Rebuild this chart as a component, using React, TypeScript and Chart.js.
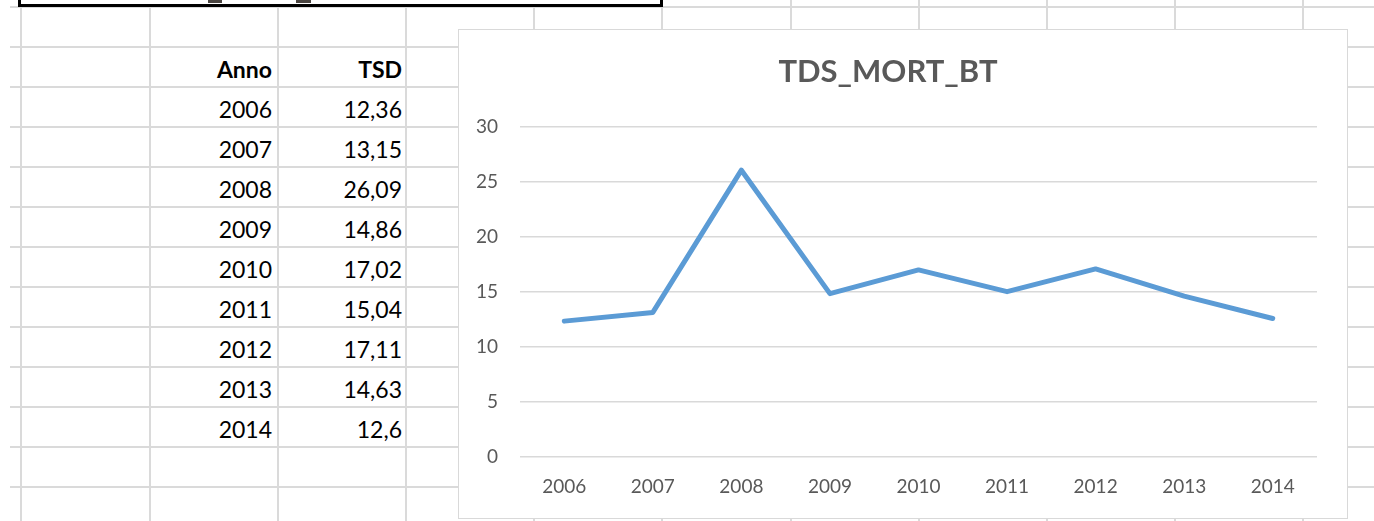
import React, { useEffect, useRef } from 'react';
import { Chart, registerables } from 'chart.js';

Chart.register(...registerables);

// ---- data ----
const TITLE = 'TDS_MORT_BT';
const HEADER_ANNO = 'Anno';
const HEADER_TSD = 'TSD';
const ANNI = ['2006', '2007', '2008', '2009', '2010', '2011', '2012', '2013', '2014'];
const TSD = [12.36, 13.15, 26.09, 14.86, 17.02, 15.04, 17.11, 14.63, 12.6];
const Y_MIN = 0;
const Y_MAX = 30;
const Y_STEP = 5;

// ---- layout (sheet decoration) ----
const COL_LINES = [20, 149, 277, 405, 533, 661, 790, 918, 1046, 1174, 1302];
const ROW_LINES = [6, 46, 86, 126, 166, 206, 246, 286, 326, 366, 406, 446, 486];
const GRID_COLOR = '#dadada';
const FONT = 'Lato, "Open Sans", "Noto Sans", sans-serif';
const TEXT_GRAY = '#595959';

function ChartBox() {
  const ref = useRef<HTMLCanvasElement | null>(null);
  useEffect(() => {
    if (!ref.current) return;
    const chart = new Chart(ref.current, {
      type: 'line',
      data: {
        labels: ANNI,
        datasets: [
          {
            label: 'TSD',
            data: TSD,
            borderColor: '#5b9bd5',
            backgroundColor: '#5b9bd5',
            borderWidth: 5,
            tension: 0,
            pointRadius: 0,
            pointHoverRadius: 0,
            borderCapStyle: 'round',
            borderJoinStyle: 'round',
            fill: false,
          },
        ],
      },
      options: {
        responsive: false,
        animation: false,
        devicePixelRatio: 1,
        layout: { padding: { left: 0, right: 30, top: 0, bottom: 0 } },
        plugins: {
          legend: { display: false },
          tooltip: { enabled: false },
          title: {
            display: true,
            text: TITLE,
            color: TEXT_GRAY,
            font: { family: FONT, size: 31, weight: 'bold', lineHeight: 1.2 },
            padding: { top: 23, bottom: 37 },
          },
        },
        scales: {
          x: {
            offset: true,
            grid: { display: false, drawTicks: false },
            border: { display: false },
            ticks: {
              color: TEXT_GRAY,
              font: { family: FONT, size: 19 },
              padding: 18,
              maxRotation: 0,
              autoSkip: false,
            },
            afterFit: (s: any) => {
              s.height = 61;
            },
          },
          y: {
            min: Y_MIN,
            max: Y_MAX,
            grid: { color: '#d9d9d9', lineWidth: 1.5, drawTicks: false },
            border: { display: false },
            ticks: {
              stepSize: Y_STEP,
              color: TEXT_GRAY,
              font: { family: FONT, size: 19 },
              padding: 22,
            },
            afterFit: (s: any) => {
              s.width = 61;
            },
          },
        },
      },
    });
    return () => chart.destroy();
  }, []);
  return (
    <canvas ref={ref} width={888} height={488} style={{ display: 'block', width: 888, height: 488 }} />
  );
}

const fmt = (v: number) => String(v).replace('.', ',');

export default function App() {
  const cellText = (text: string, right: number, top: number, bold: boolean, key: string) => (
    <div
      key={key}
      style={{
        position: 'absolute',
        right: 1374 - right,
        top: top + 2,
        height: 40,
        lineHeight: '40px',
        fontFamily: FONT,
        fontSize: 23,
        fontWeight: bold ? 700 : 400,
        color: '#000',
        whiteSpace: 'nowrap',
        textAlign: 'right',
      }}
    >
      {text}
    </div>
  );

  return (
    <div
      style={{
        position: 'absolute',
        left: 0,
        top: 0,
        width: 1374,
        height: 521,
        overflow: 'hidden',
        background: '#fff',
      }}
    >
      {ROW_LINES.map((y, i) => (
        <div
          key={'r' + i}
          style={{ position: 'absolute', left: 10, top: y, width: 1364, height: 2, background: GRID_COLOR }}
        />
      ))}
      {COL_LINES.map((x, i) => (
        <div
          key={'c' + i}
          style={{ position: 'absolute', left: x, top: 0, width: 2, height: 521, background: GRID_COLOR }}
        />
      ))}

      {cellText(HEADER_ANNO, 272, 47, true, 'ha')}
      {cellText(HEADER_TSD, 402, 47, true, 'ht')}
      {ANNI.map((a, i) => cellText(a, 272, 87 + 40 * i, false, 'a' + i))}
      {TSD.map((v, i) => cellText(fmt(v), 402, 87 + 40 * i, false, 't' + i))}

      <div
        style={{
          position: 'absolute',
          left: 18,
          top: -12,
          width: 645,
          height: 19,
          boxSizing: 'border-box',
          border: '3px solid #000',
          background: '#fff',
        }}
      />
      <div style={{ position: 'absolute', left: 208, top: 0, width: 14, height: 3, background: '#4a4440' }} />
      <div style={{ position: 'absolute', left: 296, top: 0, width: 15, height: 3, background: '#4a4440' }} />

      <div
        style={{
          position: 'absolute',
          left: 458,
          top: 29,
          width: 890,
          height: 490,
          boxSizing: 'border-box',
          border: '1px solid #d9d9d9',
          background: '#fff',
        }}
      >
        <ChartBox />
      </div>
    </div>
  );
}
